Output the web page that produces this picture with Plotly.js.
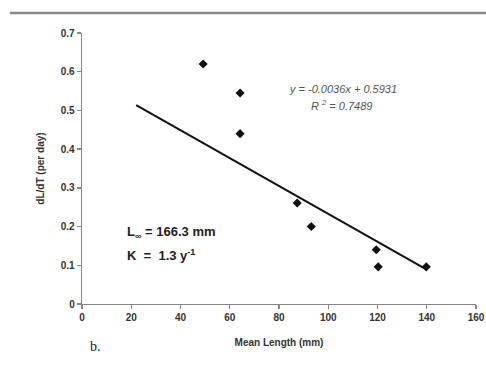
<!DOCTYPE html>
<html><head><meta charset="utf-8">
<script src="https://cdn.plot.ly/plotly-3.0.1.min.js"></script>
<style>html,body{margin:0;padding:0;background:#fff;}#chart{width:486px;height:372px;}</style>
</head><body><div id="chart"></div>
<script>
const meanLength = [49.2, 64.2, 64.2, 87.4, 93.1, 119.5, 120.3, 139.8];
const growthRate = [0.62, 0.545, 0.44, 0.261, 0.2, 0.14, 0.096, 0.096];
const trendX = [22, 140];
const trendSlope = -0.0036;
const trendIntercept = 0.5931;
const trendY = trendX.map(x => trendSlope * x + trendIntercept);
const xTicks = [0, 20, 40, 60, 80, 100, 120, 140, 160];
const yTicks = [0, 0.1, 0.2, 0.3, 0.4, 0.5, 0.6, 0.7];

const font = {family: 'Liberation Sans, Arial, sans-serif', color: '#333'};
const data = [
  {x: trendX, y: trendY, mode: 'lines', line: {color: '#111', width: 2}, hoverinfo: 'skip', showlegend: false},
  {x: meanLength, y: growthRate, mode: 'markers', marker: {symbol: 'diamond', size: 7, color: '#111'}, showlegend: false}
];
const axisCommon = {
  showgrid: false, zeroline: false, showline: true, linecolor: '#888', linewidth: 1.3,
  ticks: 'outside', ticklen: 4, tickcolor: '#888', tickwidth: 1.3,
  tickfont: {family: font.family, size: 10, color: '#333', weight: 'bold'}
};
const layout = {
  width: 486, height: 372,
  margin: {l: 82, r: 10, t: 33, b: 68},
  paper_bgcolor: '#fff', plot_bgcolor: '#fff',
  font: font,
  xaxis: Object.assign({}, axisCommon, {range: [0, 160], tickvals: xTicks, ticktext: xTicks.map(String),
    title: {text: 'Mean Length (mm)', font: {family: font.family, size: 10, color: '#333', weight: 'bold'}, standoff: 16}}),
  yaxis: Object.assign({}, axisCommon, {range: [0, 0.7], tickvals: yTicks, ticktext: yTicks.map(v => v === 0 ? '0' : v.toFixed(1)),
    title: {text: 'dL/dT (per day)', font: {family: font.family, size: 10, color: '#333', weight: 'bold'}, standoff: 14}}),
  shapes: [
    {type: 'line', xref: 'paper', yref: 'paper', x0: -0.183, x1: 1.03, y0: 1.074, y1: 1.074, line: {color: '#888', width: 2.5}}
  ],
  annotations: [
    {xref: 'paper', yref: 'paper', x: 0.52, y: 0.793, xanchor: 'left', yanchor: 'middle', showarrow: false,
     text: '<i>y = -0.0036x + 0.5931</i>', font: {family: font.family, size: 11, color: '#555'}},
    {xref: 'paper', yref: 'paper', x: 0.575, y: 0.733, xanchor: 'left', yanchor: 'middle', showarrow: false,
     text: '<i>R <sup>2</sup> = 0.7489</i>', font: {family: font.family, size: 11, color: '#555'}},
    {xref: 'paper', yref: 'paper', x: 0.108, y: 0.265, xanchor: 'left', yanchor: 'middle', showarrow: false,
     text: '<b>L<sub>∞</sub> = 166.3 mm</b>', font: {family: font.family, size: 13, color: '#222'}},
    {xref: 'paper', yref: 'paper', x: 0.108, y: 0.18, xanchor: 'left', yanchor: 'middle', showarrow: false,
     text: '<b>K  =  1.3 y<sup>-1</sup></b>', font: {family: font.family, size: 13, color: '#222'}},
    {xref: 'paper', yref: 'paper', x: 0.015, y: -0.158, xanchor: 'left', yanchor: 'middle', showarrow: false,
     text: 'b.', font: {family: 'Liberation Serif, Times New Roman, serif', size: 14, color: '#222'}}
  ]
};
Plotly.newPlot('chart', data, layout, {displayModeBar: false, staticPlot: true});
</script></body></html>
